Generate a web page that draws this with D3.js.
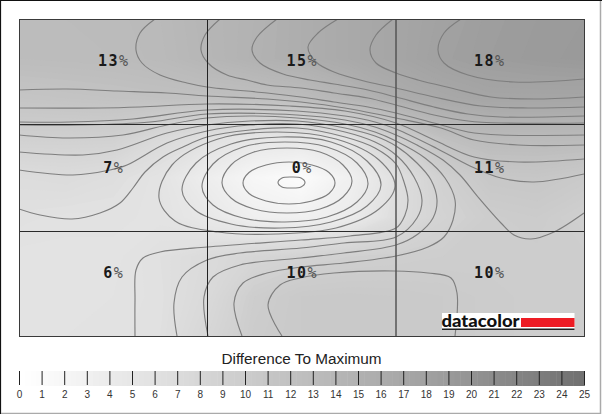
<!DOCTYPE html>
<html><head><meta charset="utf-8">
<style>html,body{margin:0;padding:0;background:#fff}svg{display:block}</style>
<script src="https://cdn.jsdelivr.net/npm/d3@7/dist/d3.min.js"></script>
</head><body><svg id="c" width="602" height="414"></svg>
<script>
// Measured difference to maximum, percent, per screen zone
const zoneLabels = [["13","15","18"],["7","0","11"],["6","10","10"]];
const zoneX = [113, 301.5, 489];
const zoneY = [60.5, 167.5, 272.5];
// Estimated surface (13 columns x 9 rows across the screen), percent
const surfaceCols = 13, surfaceRows = 9;
const surface = [
 12.7,12.8,12.9,13.2,14.0,14.6,15.4,16.2,17.0,17.7,18.3,18.6,18.8,
 12.6,12.7,12.8,13.1,13.9,14.7,15.4,16.2,17.0,17.9,18.4,18.7,18.9,
 11.2,11.4,11.6,11.8,11.9,12.1,12.6,14.0,15.5,16.4,17.0,17.0,17.0,
 9.0,9.0,9.0,7.2,6.0,5.0,4.9,5.5,9.0,12.0,13.0,13.0,13.0,
 6.6,6.8,6.3,5.4,3.4,1.6,0.6,2.8,6.0,9.0,10.6,10.8,10.2,
 5.9,5.7,5.7,5.5,4.5,3.0,2.7,3.7,6.5,8.5,9.5,9.8,9.0,
 5.5,5.5,5.5,6.0,6.9,8.0,8.6,9.0,9.2,9.4,9.5,9.5,9.5,
 5.5,5.5,5.6,5.9,7.2,9.4,10.2,10.3,10.2,10.0,9.7,9.5,9.4,
 5.6,5.6,5.7,6.0,7.8,9.7,10.2,10.3,10.2,10.0,9.7,9.5,9.4
];
// Iso-lines, in screen-plane units (plane spans 19..584 x 19..336)
const isoTop1 = [[155,19],[140,33],[136,50],[142,63],[160,75],[187,83],[207,87],[267,93],[301,97],[334,102],[368,107],[396,113],[434,123],[468,132],[501,135],[584,135]];
const isoTop2 = [[220,19],[205,35],[201,50],[208,63],[227,75],[247,80],[267,85],[301,88],[334,93],[368,98],[396,105],[434,115],[468,121],[501,123],[584,123]];
const isoTop3 = [[277,19],[257,37],[252,50],[260,63],[283,74],[310,80],[334,84],[368,90],[396,97],[434,107],[468,114],[501,117],[584,116]];
const isoTop4 = [[338,19],[318,33],[308,47],[316,62],[334,72],[368,82],[396,88],[434,97],[481,106],[528,108],[584,107]];
const isoTop5 = [[393,19],[376,35],[370,50],[376,63],[396,73],[418,80],[451,88],[491,97],[534,99],[584,97]];
const isoTop6 = [[461,19],[444,33],[438,50],[444,63],[468,75],[514,82],[584,79]];
const isoLeft1 = [[19,90],[67,89],[117,91],[167,93],[207,96],[267,99],[301,102],[345,108],[396,118],[441,128],[474,140],[518,145],[584,145]];
const isoLeft2 = [[19,108],[100,108],[140,107],[207,104],[290,106],[345,111],[396,123],[434,140],[474,157],[518,162],[584,159]];
const isoLeft3 = [[19,122],[70,122],[133,119],[207,110],[297,111],[345,116],[375,122],[396,129],[436,148],[468,165],[501,178],[534,182],[584,174]];
const isoLeft4 = [[19,125],[80,125],[150,122],[207,114],[297,115],[345,120],[375,127],[396,135],[417,145],[443,160],[460,175],[478,197],[501,223],[514,235],[531,239],[554,232],[584,213]];
const isoLeft5 = [[19,135],[67,138],[123,135],[167,125],[207,118],[250,116],[297,118],[345,124],[375,132],[396,141],[425,158],[445,178],[455,200],[453,220],[444,237],[428,247],[396,256],[344,263],[301,267],[267,273],[243,283],[234,303],[242,336]];
const isoLeft6 = [[19,152],[83,155],[117,150],[167,133],[207,125],[250,121],[297,121],[345,128],[375,136],[396,146],[417,163],[431,180],[437,200],[433,218],[418,234],[396,245],[344,253],[301,258],[240,265],[213,277],[204,297],[208,336]];
const isoLeft7 = [[19,170],[73,175],[110,170],[127,165],[167,143],[207,131],[250,125],[297,124],[345,132],[375,142],[396,155],[414,177],[422,200],[417,218],[396,237],[344,243],[301,248],[240,253],[207,260],[182,277],[174,303],[177,336]];
const isoLeft8 = [[19,209],[40,215],[72,219],[100,213],[120,203],[133,188],[145,172],[163,157],[183,147],[207,137],[250,130],[297,128],[345,137],[375,148],[396,164],[404,182],[408,200],[405,215],[396,228],[350,236],[301,240],[207,247],[160,252],[143,258],[136,270],[135,300],[135,336]];
const ring0 = [[278,182.5],[282,178],[291.5,177],[301,178],[305,182.5],[301,187],[291.5,188],[282,187]];
const ring1 = [[335,183],[329,193.5],[312,201],[289,204],[266,201],[249,193.5],[243,183],[249,172.5],[266,165],[289,162],[312,165],[329,172.5]];
const ring2 = [[352,181],[343,197],[320,209],[287,213],[254,209],[231,198],[222,183],[231,165],[254,152],[287,148],[320,152],[343,165]];
const ring3 = [[368,184],[357,202],[327,217],[285,222],[243,218],[213,205],[202,187],[213,164],[243,147],[285,142],[327,147],[357,163]];
const ring4 = [[381,185],[367,206],[331,222],[281,228],[231,224],[195,210],[182,190],[196,163],[231,144],[281,137],[331,142],[367,161]];
const ring5 = [[395,186],[379,209],[336,228],[277,234],[218,232],[175,221],[159,198],[172,165],[218,139],[277,132],[336,139],[379,160]];
const isoBottom = [[282,336],[268,305],[280,285],[300,278],[334,273],[394,271],[428,273],[451,278],[457,293],[455,336]];
const openLines = [isoTop1,isoTop2,isoTop3,isoTop4,isoTop5,isoTop6,isoLeft1,isoLeft2,isoLeft3,isoLeft4,isoLeft5,isoLeft6,isoLeft7,isoLeft8,isoBottom];
const closedLines = [ring0,ring1,ring2,ring3,ring4,ring5];
// Grid dividers and legend
const dividersX = [207.5, 396];
const dividersY = [124.5, 231.5];
const legendTicks = d3.range(0, 26);
const legendTitle = "Difference To Maximum";

const svg = d3.select("#c");
const panelL = 19.5, panelR = 584.5, panelT = 19.5, panelB = 336.5;
const x = d3.scaleLinear().domain([19, 584]).range([19, 584]);
const y = d3.scaleLinear().domain([19, 336]).range([19, 336]);
const gx = d3.scaleLinear().domain([0.5, surfaceCols - 0.5]).range([19, 584]);
const gy = d3.scaleLinear().domain([0.5, surfaceRows - 0.5]).range([19, 336]);
const tone = d3.scaleLinear().domain([0, 6, 12, 18, 25]).range(["#ffffff", "#e0e0e0", "#c0c0c0", "#a0a0a0", "#6e6e6e"]);

svg.append("rect").attr("width", 602).attr("height", 414).attr("fill", "#fff");
svg.append("defs").append("clipPath").attr("id", "panel").append("rect")
  .attr("x", 19).attr("y", 19).attr("width", 565.5).attr("height", 317.5);

const plot = svg.append("g").attr("clip-path", "url(#panel)");
plot.append("rect").attr("x", 19).attr("y", 19).attr("width", 566).attr("height", 318).attr("fill", "#fff");
const steps = d3.range(0, 20, 0.2);
const bands = d3.contours().size([surfaceCols, surfaceRows]).smooth(true).thresholds(steps)(surface);
const geo = d3.geoPath(d3.geoTransform({ point(a, b) { this.stream.point(gx(a), gy(b)); } }));
plot.selectAll("path.band").data(bands).join("path").attr("class", "band")
  .attr("d", geo).attr("fill", d => tone(d.value + 0.1)).attr("stroke", "none");

const openGen = d3.line().x(d => x(d[0])).y(d => y(d[1])).curve(d3.curveCatmullRom.alpha(0.5));
const closedGen = d3.line().x(d => x(d[0])).y(d => y(d[1])).curve(d3.curveCatmullRomClosed.alpha(0.5));
plot.selectAll("path.iso").data(openLines).join("path").attr("class", "iso")
  .attr("d", openGen).attr("fill", "none").attr("stroke", "#7e7e7e").attr("stroke-width", 1.15);
plot.selectAll("path.ring").data(closedLines).join("path").attr("class", "ring")
  .attr("d", closedGen).attr("fill", "none").attr("stroke", "#7e7e7e").attr("stroke-width", 1.15);

// dividers + frame
svg.selectAll("line.dvx").data(dividersX).join("line").attr("class", "dvx")
  .attr("x1", d => d).attr("x2", d => d).attr("y1", panelT).attr("y2", panelB)
  .attr("stroke", (d, i) => i ? "#555" : "#222").attr("stroke-width", (d, i) => i ? 1.5 : 1);
svg.selectAll("line.dvy").data(dividersY).join("line").attr("class", "dvy")
  .attr("x1", panelL).attr("x2", panelR).attr("y1", d => d).attr("y2", d => d)
  .attr("stroke", "#2a2a2a").attr("stroke-width", 1.2);
svg.append("rect").attr("x", panelL).attr("y", panelT).attr("width", panelR - panelL).attr("height", panelB - panelT)
  .attr("fill", "none").attr("stroke", "#3a3a3a").attr("stroke-width", 1);

// zone labels
zoneLabels.forEach((row, r) => row.forEach((v, c) => {
  const t = svg.append("text").attr("x", zoneX[c]).attr("y", zoneY[r] + 5.5).attr("text-anchor", "middle")
    .style("font-family", "'DejaVu Sans Mono', monospace").style("font-size", "15px");
  t.append("tspan").text(v).attr("font-weight", "bold").attr("fill", "#1a1a1a").style("letter-spacing", "1.5px");
  t.append("tspan").text("%").attr("fill", "#555");
}));

// logo
const logo = svg.append("g");
logo.append("rect").attr("x", 442).attr("y", 313).attr("width", 132.5).attr("height", 17).attr("fill", "#fff");
logo.append("rect").attr("x", 521).attr("y", 318).attr("width", 53.5).attr("height", 9).attr("fill", "#ed1c24");
logo.append("rect").attr("x", 442).attr("y", 328.5).attr("width", 132.5).attr("height", 1.5).attr("fill", "#222");
logo.append("text").text("datacolor").attr("x", 441.5).attr("y", 326.5)
  .attr("textLength", 78).attr("lengthAdjust", "spacingAndGlyphs")
  .style("font-family", "Lato, 'Liberation Sans', sans-serif").style("font-weight", "900").style("font-size", "17px").attr("fill", "#111");

// legend
svg.append("text").text(legendTitle).attr("x", 301.5).attr("y", 364).attr("text-anchor", "middle")
  .style("font-family", "'Liberation Sans', Arial, sans-serif").style("font-size", "15.3px").attr("fill", "#222");
const lx = d3.scaleLinear().domain([0, 25]).range([19.5, 584.5]);
const lg = svg.append("g");
const fine = d3.range(0, 25, 0.25);
lg.selectAll("rect").data(fine).join("rect")
  .attr("x", d => lx(d)).attr("width", lx(0.25) - lx(0) + 0.5).attr("y", 371).attr("height", 15)
  .attr("fill", d => tone(Math.floor(d) + (d - Math.floor(d)) * 0.8));
lg.selectAll("line").data(legendTicks).join("line")
  .attr("x1", d => lx(d)).attr("x2", d => lx(d)).attr("y1", 371).attr("y2", 385)
  .attr("stroke", "#222").attr("stroke-width", 1);
lg.selectAll("text").data(legendTicks).join("text").text(d => d)
  .attr("x", d => lx(d)).attr("y", 398).attr("text-anchor", "middle")
  .style("font-family", "'Liberation Sans', Arial, sans-serif").style("font-size", "10px").attr("fill", "#333");

// outer border
svg.append("path").attr("d", "M0.5,414V0.5H602").attr("fill", "none").attr("stroke", "#111").attr("stroke-width", 1.2);
svg.append("path").attr("d", "M600.5,1V413.5H1").attr("fill", "none").attr("stroke", "#aaa").attr("stroke-width", 1.5);
</script></body></html>
